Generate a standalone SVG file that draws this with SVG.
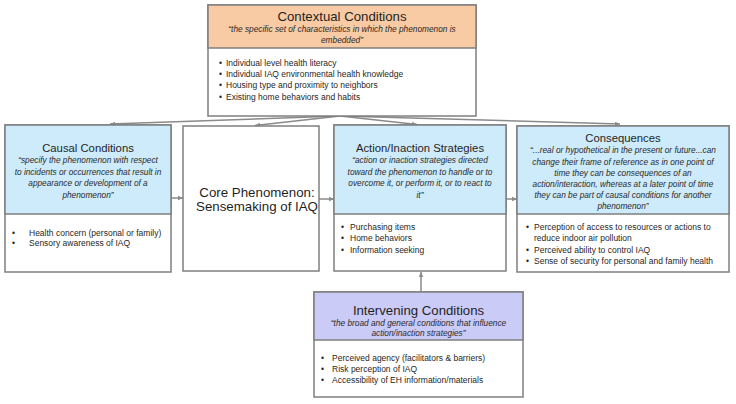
<svg xmlns="http://www.w3.org/2000/svg" width="736" height="404" viewBox="0 0 736 404">
<style>
text{font-family:"Liberation Sans",Arial,sans-serif;fill:#1f1f1f}
.box{fill:#fff;stroke:#7f7f7f;stroke-width:1.5}
.hdr{stroke:#7f7f7f;stroke-width:1.5}
.t{font-size:11.3px;text-anchor:middle}
.tb{font-size:13.2px;text-anchor:middle}
.q{font-size:8.3px;font-style:italic;text-anchor:middle;fill:#2a2a2a}
.b{font-size:8.5px}
.conn line{stroke:#8a8a8a;stroke-width:1.5;fill:none}
</style>
<defs>
<marker id="ah" markerWidth="6" markerHeight="6" refX="5" refY="3" orient="auto" markerUnits="userSpaceOnUse">
<path d="M0,0.8 L5,3 L0,5.2 Z" fill="#8a8a8a"/>
</marker>
</defs>
<rect width="736" height="404" fill="#fff"/>

<g class="conn">
<line x1="340" y1="116" x2="110" y2="124" marker-end="url(#ah)"/>
<line x1="340" y1="116" x2="255" y2="125.5" marker-end="url(#ah)"/>
<line x1="340" y1="116" x2="417" y2="124.5" marker-end="url(#ah)"/>
<line x1="340" y1="116" x2="620" y2="124" marker-end="url(#ah)"/>
<line x1="171" y1="198" x2="183" y2="198" marker-end="url(#ah)"/>
<line x1="319" y1="199" x2="334" y2="199" marker-end="url(#ah)"/>
<line x1="506" y1="199" x2="517" y2="199" marker-end="url(#ah)"/>
<line x1="421" y1="292" x2="421" y2="272" marker-end="url(#ah)"/>
</g>

<g id="contextual">
<rect class="box" x="208" y="5" width="268" height="111"/>
<rect class="hdr" x="208" y="5" width="268" height="43" fill="#f8cba4"/>
<text class="tb" x="342" y="20.5">Contextual Conditions</text>
<text class="q" x="342" y="32">“the specific set of characteristics in which the phenomenon is</text>
<text class="q" x="342" y="43">embedded”</text>
<text class="b" x="219" y="66">•</text><text class="b" x="226" y="66">Individual level health literacy</text>
<text class="b" x="219" y="77">•</text><text class="b" x="226" y="77">Individual IAQ environmental health knowledge</text>
<text class="b" x="219" y="88">•</text><text class="b" x="226" y="88">Housing type and proximity to neighbors</text>
<text class="b" x="219" y="100">•</text><text class="b" x="226" y="100">Existing home behaviors and habits</text>
</g>

<g id="causal">
<rect class="box" x="5" y="125" width="166" height="147"/>
<rect class="hdr" x="5" y="125" width="166" height="89" fill="#cdebfa"/>
<text class="t" x="88" y="152">Causal Conditions</text>
<text class="q" x="88" y="163">“specify the phenomenon with respect</text>
<text class="q" x="88" y="175">to incidents or occurrences that result in</text>
<text class="q" x="88" y="186">appearance or development of a</text>
<text class="q" x="88" y="198">phenomenon”</text>
<text class="b" x="12" y="236">•</text><text class="b" x="29" y="236">Health concern (personal or family)</text>
<text class="b" x="12" y="246">•</text><text class="b" x="29" y="246">Sensory awareness of IAQ</text>
</g>

<g id="core">
<rect class="box" x="183" y="126" width="136" height="145"/>
<text class="tb" x="257" y="197" style="font-size:13.3px">Core Phenomenon:</text>
<text class="tb" x="257" y="211" style="font-size:13.3px">Sensemaking of IAQ</text>
</g>

<g id="action">
<rect class="box" x="334" y="125" width="172" height="146"/>
<rect class="hdr" x="334" y="125" width="172" height="89" fill="#cdebfa"/>
<text class="t" x="420" y="152">Action/Inaction Strategies</text>
<text class="q" x="420" y="163">“action or inaction strategies directed</text>
<text class="q" x="420" y="175">toward the phenomenon to handle or to</text>
<text class="q" x="420" y="186">overcome it, or perform it, or to react to</text>
<text class="q" x="420" y="198">it”</text>
<text class="b" x="341" y="230">•</text><text class="b" x="350" y="230">Purchasing items</text>
<text class="b" x="341" y="241">•</text><text class="b" x="350" y="241">Home behaviors</text>
<text class="b" x="341" y="253">•</text><text class="b" x="350" y="253">Information seeking</text>
</g>

<g id="consequences">
<rect class="box" x="517" y="126" width="212" height="146"/>
<rect class="hdr" x="517" y="126" width="212" height="88" fill="#cdebfa"/>
<text class="t" x="623" y="142">Consequences</text>
<text class="q" x="623" y="153">“...real or hypothetical in the present or future...can</text>
<text class="q" x="623" y="165">change their frame of reference as in one point of</text>
<text class="q" x="623" y="176">time they can be consequences of an</text>
<text class="q" x="623" y="187">action/interaction, whereas at a later point of time</text>
<text class="q" x="623" y="198">they can be part of causal conditions for another</text>
<text class="q" x="623" y="209">phenomenon”</text>
<text class="b" x="526" y="230">•</text><text class="b" x="534" y="230">Perception of access to resources or actions to</text>
<text class="b" x="534" y="241">reduce indoor air pollution</text>
<text class="b" x="526" y="253">•</text><text class="b" x="534" y="253">Perceived ability to control IAQ</text>
<text class="b" x="526" y="264">•</text><text class="b" x="534" y="264">Sense of security for personal and family health</text>
</g>

<g id="intervening">
<rect class="box" x="314" y="292" width="209" height="105"/>
<rect class="hdr" x="314" y="292" width="209" height="48" fill="#cbcbf7"/>
<text class="tb" x="418.5" y="315">Intervening Conditions</text>
<text class="q" x="418.5" y="326">“the broad and general conditions that influence</text>
<text class="q" x="418.5" y="336">action/inaction strategies”</text>
<text class="b" x="321" y="361">•</text><text class="b" x="332" y="361">Perceived agency (facilitators &amp; barriers)</text>
<text class="b" x="321" y="372">•</text><text class="b" x="332" y="372">Risk perception of IAQ</text>
<text class="b" x="321" y="383">•</text><text class="b" x="332" y="383">Accessibility of EH information/materials</text>
</g>
</svg>
